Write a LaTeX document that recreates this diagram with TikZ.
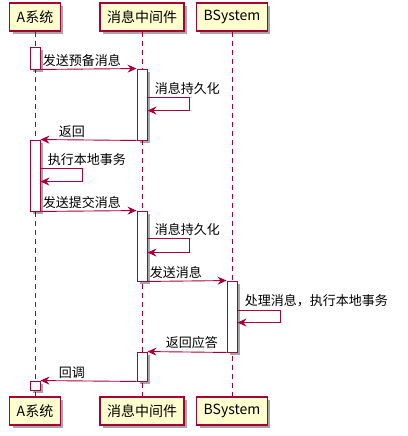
\documentclass[tikz,border=0pt]{standalone}
\usepackage{fontspec}
\newfontfamily\cjk{Noto Sans CJK SC}
\usetikzlibrary{arrows.meta,shadows}
\definecolor{umlred}{HTML}{A80036}
\definecolor{umlyellow}{HTML}{FEFECE}

\tikzset{
  umlshadow/.style={drop shadow={shadow xshift=3pt,shadow yshift=-3pt,fill=black,opacity=0.35}},
  actor/.style={draw=umlred,fill=umlyellow,line width=1.2pt,inner xsep=7pt,inner ysep=0pt,
    minimum height=28pt,font=\cjk\fontsize{14}{16}\selectfont,umlshadow},
  life/.style={draw=umlred,dash pattern=on 5pt off 4pt,line width=0.9pt},
  act/.style={draw=umlred,fill=white,line width=0.9pt,minimum width=10pt,inner sep=0pt,
    minimum height=#1,umlshadow},
  msg/.style={draw=umlred,line width=0.9pt,-{Stealth[length=9pt,width=8pt,inset=3pt]}},
  lbl/.style={font=\cjk\fontsize{13}{15}\selectfont,inner sep=1pt,anchor=south west}
}

\begin{document}
\begin{tikzpicture}[x=1pt,y=-1pt]
  \useasboundingbox (0,0) rectangle (407,436);

  % participants
  \node[actor] (aTop) at (35,17) {A系统};
  \node[actor] (mTop) at (142,17) {消息中间件};
  \node[actor] (bTop) at (232,17) {BSystem};
  \node[actor] (aBot) at (35,411) {A系统};
  \node[actor] (mBot) at (142,411) {消息中间件};
  \node[actor] (bBot) at (232,411) {BSystem};

  % lifelines
  \draw[life] (aTop) -- (aBot);
  \draw[life] (mTop) -- (mBot);
  \draw[life] (bTop) -- (bBot);

  % activations
  \node[act=22pt] (a1) at (35,58) {};
  \node[act=71pt] (m1) at (142,104.5) {};
  \node[act=71pt] (a2) at (35,175.5) {};
  \node[act=70pt] (m2) at (142,246) {};
  \node[act=71pt] (b1) at (232,316.5) {};
  \node[act=29pt] (m3) at (142,366.5) {};
  \node[act=9pt] (a3) at (35,385.5) {};

  % messages
  \draw[msg] (a1.south east) -- node[lbl,pos=0,xshift=1pt,yshift=1pt] {发送预备消息} (m1.north west);
  \draw[msg] ([yshift=-29pt]m1.north east) -- node[lbl,pos=0,xshift=6pt,yshift=2pt] {消息持久化} ++(42,0)
    |- ([yshift=-42pt]m1.north east);
  \draw[msg] (m1.south west) -- node[lbl,pos=1,xshift=17pt,yshift=1pt] {返回} (a2.north east);
  \draw[msg] ([yshift=-29pt]a2.north east) -- node[lbl,pos=0,xshift=6pt,yshift=2pt] {执行本地事务} ++(42,0)
    |- ([yshift=-42pt]a2.north east);
  \draw[msg] (a2.south east) -- node[lbl,pos=0,xshift=1pt,yshift=1pt] {发送提交消息} (m2.north west);
  \draw[msg] ([yshift=-28pt]m2.north east) -- node[lbl,pos=0,xshift=6pt,yshift=2pt] {消息持久化} ++(42,0)
    |- ([yshift=-42pt]m2.north east);
  \draw[msg] (m2.south east) -- node[lbl,pos=0,xshift=1pt,yshift=1pt] {发送消息} (b1.north west);
  \draw[msg] ([yshift=-30pt]b1.north east) -- node[lbl,pos=0,xshift=6pt,yshift=2pt] {处理消息，执行本地事务} ++(43,0)
    |- ([yshift=-42pt]b1.north east);
  \draw[msg] (b1.south west) -- node[lbl,pos=1,xshift=17pt,yshift=1pt] {返回应答} (m3.north east);
  \draw[msg] (m3.south west) -- node[lbl,pos=1,xshift=17pt,yshift=1pt] {回调} (a3.north east);
\end{tikzpicture}
\end{document}
